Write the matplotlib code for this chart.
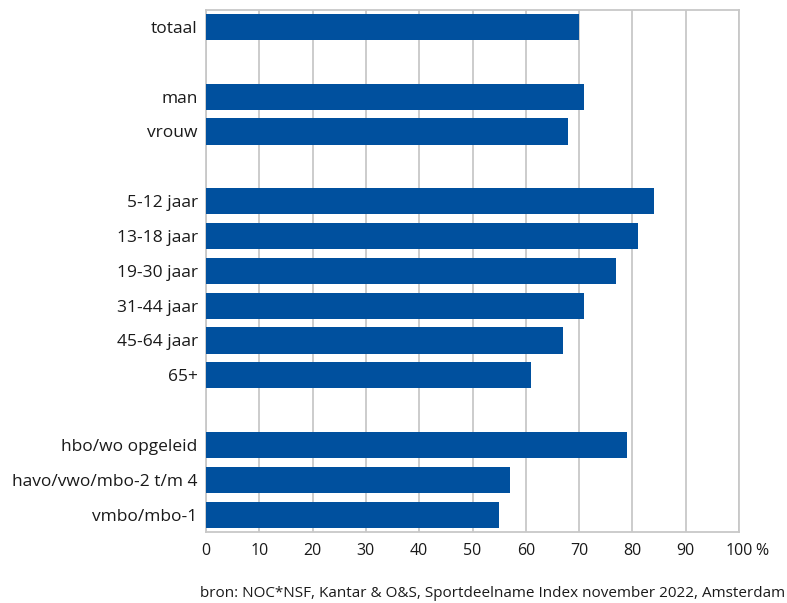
import numpy as np
import matplotlib.pyplot as plt

plt.rcParams['font.family'] = ['Open Sans', 'DejaVu Sans']

categories = ['totaal', '', 'man', 'vrouw', '',
              '5-12 jaar', '13-18 jaar', '19-30 jaar', '31-44 jaar', '45-64 jaar', '65+', '',
              'hbo/wo opgeleid', 'havo/vwo/mbo-2 t/m 4', 'vmbo/mbo-1']
values = [70, np.nan, 71, 68, np.nan,
          84, 81, 77, 71, 67, 61, np.nan,
          79, 57, 55]
x_ticks = list(range(0, 101, 10))
source = 'bron: NOC*NSF, Kantar & O&S, Sportdeelname Index november 2022, Amsterdam'

fig = plt.figure(figsize=(7.87, 6.03), dpi=100)
ax = fig.add_axes([0.2618, 0.1177, 0.6772, 0.8664])

pos = np.arange(len(categories))
ax.barh(pos, np.nan_to_num(values), height=0.75, color='#00509e', zorder=3)

ax.set_xlim(0, 100)
ax.set_ylim(len(categories) - 0.5, -0.5)
ax.set_xticks(x_ticks)
ax.set_xticklabels([str(t) for t in x_ticks])
ax.set_yticks(pos)
ax.set_yticklabels(categories)
ax.tick_params(axis='both', length=0, colors='#1a1a1a')
ax.tick_params(axis='y', pad=6, labelsize=12.5)
ax.tick_params(axis='x', pad=8, labelsize=11.5)

ax.grid(axis='x', color='#c8c8c8', linewidth=1.3, zorder=0)
for s in ax.spines.values():
    s.set_color('#c8c8c8')
    s.set_linewidth(1.3)

ax.annotate('%', xy=(100, 0), xycoords=('data', 'axes fraction'),
            xytext=(12, -8), textcoords='offset points', fontsize=11.5,
            color='#1a1a1a', ha='left', va='top')

fig.text(0.997, 0.004, source, ha='right', va='bottom', fontsize=11, color='#1a1a1a')

fig.savefig('out.png', dpi=100)
